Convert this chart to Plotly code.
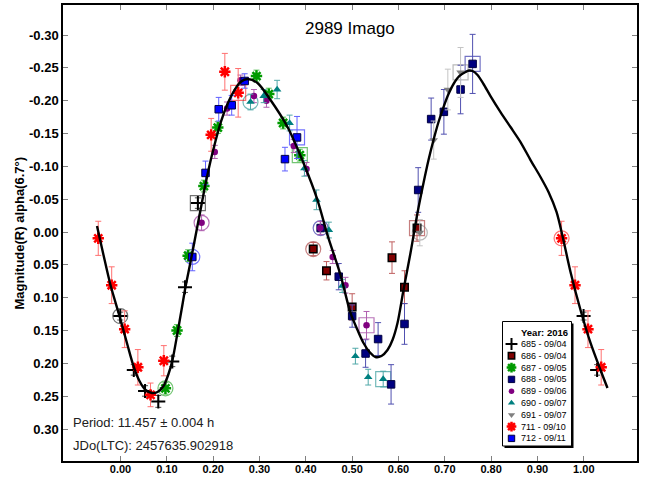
import plotly.graph_objects as go

# ---- fitted light curve (phase, reduced magnitude) ----
curve_phase = [-0.0507, -0.0367, -0.0216, -0.0022, 0.0151, 0.0281, 0.0410, 0.0540, 0.0680,
               0.0799, 0.0928, 0.1036, 0.1122, 0.1230, 0.1317, 0.1403, 0.1511, 0.1619,
               0.1727, 0.1835, 0.1943, 0.2051, 0.2158, 0.2309, 0.2461, 0.2590, 0.2741,
               0.2957, 0.3238, 0.3605, 0.3950, 0.4252, 0.4468, 0.4749, 0.4964, 0.5116,
               0.5245, 0.5375, 0.5504, 0.5633, 0.5763, 0.5871, 0.5979, 0.6108, 0.6259,
               0.6410, 0.6540, 0.6648, 0.6756, 0.6864, 0.6972, 0.7080, 0.7188, 0.7317,
               0.7447, 0.7522, 0.7598, 0.7706, 0.7835, 0.7986, 0.8202, 0.8418, 0.8634,
               0.8850, 0.9065, 0.9238, 0.9411, 0.9540, 0.9713, 0.9929, 1.0145, 1.0360, 1.0511]
curve_mag = [-0.0091, 0.0350, 0.0807, 0.1279, 0.1721, 0.2041, 0.2269, 0.2406, 0.2452,
             0.2436, 0.2345, 0.2162, 0.1949, 0.1538, 0.1188, 0.0838, 0.0457, 0.0061,
             -0.0335, -0.0731, -0.1081, -0.1386, -0.1660, -0.1949, -0.2162, -0.2284, -0.2330,
             -0.2269, -0.2010, -0.1599, -0.1051, -0.0487, 0.0046, 0.0655, 0.1233, 0.1492,
             0.1690, 0.1827, 0.1903, 0.1888, 0.1797, 0.1645, 0.1386, 0.0883, 0.0320,
             -0.0289, -0.0746, -0.1096, -0.1401, -0.1675, -0.1903, -0.2101, -0.2254, -0.2376,
             -0.2436, -0.2459, -0.2452, -0.2391, -0.2254, -0.2071, -0.1827, -0.1599, -0.1370,
             -0.1096, -0.0838, -0.0609, -0.0305, 0.0061, 0.0609, 0.1188, 0.1690, 0.2101, 0.2376]

# ---- sessions ----
session_ids = ["685", "686", "687", "688", "689", "690", "691", "711", "712"]
session_dates = ["09/04", "09/04", "09/05", "09/05", "09/06", "09/07", "09/07", "09/10", "09/11"]

s685_phase = [0.9995, 0.0287, 0.053, 0.0816, 0.1118, 0.1392, 0.167]
s685_mag = [0.128, 0.210, 0.242, 0.258, 0.197, 0.084, -0.044]
s685_err = [0.006, 0.008, 0.008, 0.009, 0.008, 0.008, 0.008]

s686_phase = [0.416, 0.4446, 0.500, 0.586, 0.613, 0.640]
s686_mag = [0.026, 0.059, 0.114, 0.039, 0.084, -0.006]
s686_err = [0.010, 0.014, 0.020, 0.024, 0.025, 0.020]

s687_phase = [0.097, 0.122, 0.146, 0.180, 0.210, 0.2935, 0.320, 0.351, 0.387]
s687_mag = [0.238, 0.150, 0.036, -0.070, -0.159, -0.2375, -0.210, -0.166, -0.117]
s687_err = [0.009, 0.009, 0.009, 0.009, 0.009, 0.009, 0.009, 0.009, 0.009]

s688_phase = [0.432, 0.471, 0.500, 0.529, 0.556, 0.584, 0.613, 0.6425, 0.6705, 0.698, 0.734, 0.760]
s688_mag = [-0.006, 0.068, 0.128, 0.185, 0.163, 0.232, 0.140, -0.064, -0.172, -0.183, -0.217, -0.256]
s688_err = [0.010, 0.020, 0.017, 0.021, 0.025, 0.030, 0.031, 0.034, 0.032, 0.034, 0.037, 0.045]

s689_phase = [0.175, 0.2035, 0.230, 0.259, 0.288, 0.315, 0.374, 0.4015, 0.431, 0.458, 0.4856, 0.531]
s689_mag = [-0.014, -0.122, -0.188, -0.231, -0.207, -0.200, -0.131, -0.096, -0.006, 0.038, 0.081, 0.142]
s689_err = [0.012, 0.010, 0.010, 0.008, 0.010, 0.010, 0.010, 0.010, 0.010, 0.010, 0.012, 0.021]

s690_phase = [0.2806, 0.309, 0.338, 0.365, 0.397, 0.423, 0.4497, 0.4785, 0.507, 0.5346, 0.567]
s690_mag = [-0.198, -0.207, -0.217, -0.166, -0.097, -0.049, -0.003, 0.082, 0.189, 0.221, 0.224]
s690_err = [0.012, 0.010, 0.014, 0.012, 0.012, 0.015, 0.012, 0.010, 0.012, 0.012, 0.012]

s691_phase = [0.646, 0.676, 0.7065, 0.734]
s691_mag = [0.001, -0.140, -0.217, -0.243]
s691_err = [0.020, 0.029, 0.031, 0.038]

s711_phase = [0.952, 0.981, 0.009, 0.0375, 0.0648, 0.0935, 0.1957, 0.2252, 0.254]
s711_mag = [0.0096, 0.081, 0.148, 0.206, 0.248, 0.196, -0.148, -0.244, -0.212]
s711_err = [0.026, 0.028, 0.028, 0.027, 0.018, 0.023, 0.025, 0.028, 0.037]

s712_phase = [0.155, 0.1835, 0.212, 0.240, 0.268, 0.355, 0.381]
s712_mag = [0.038, -0.090, -0.187, -0.193, -0.230, -0.111, -0.144]
s712_err = [0.021, 0.018, 0.018, 0.015, 0.011, 0.018, 0.032]

# first (circle) and last (square) observation of each session, same order as session_ids
first_phase = [-0.0005, 0.416, 0.097, 0.432, 0.175, 0.2806, 0.646, 0.952, 0.155]
first_mag = [0.128, 0.026, 0.238, -0.006, -0.014, -0.198, 0.001, 0.0096, 0.038]
last_phase = [0.167, 0.640, 0.387, 0.760, 0.531, 0.567, 0.734, 0.254, 0.381]
last_mag = [-0.044, -0.006, -0.117, -0.256, 0.142, 0.224, -0.243, -0.212, -0.144]

# axis ticks
x_ticks = [0.0, 0.1, 0.2, 0.3, 0.4, 0.5, 0.6, 0.7, 0.8, 0.9, 1.0]
y_ticks = [-0.30, -0.25, -0.20, -0.15, -0.10, -0.05, 0.00, 0.05, 0.10, 0.15, 0.20, 0.25, 0.30]

# ---- styles ----
colors = ["#000000", "#800000", "#009a00", "#000080", "#800080", "#008080", "#808080", "#ff0000", "#0000ff"]
err_colors = ["#505050", "#c06060", "#60c060", "#5050b0", "#b060b0", "#50a8a8", "#c4c4c4", "#ff7070", "#6060ff"]
ring_colors = ["rgba(0,0,0,0.55)", "rgba(160,40,40,0.6)", "rgba(0,150,0,0.55)", "rgba(0,0,150,0.55)",
               "rgba(128,0,128,0.55)", "rgba(0,128,128,0.55)", "rgba(128,128,128,0.55)",
               "rgba(255,0,0,0.55)", "rgba(0,0,255,0.55)"]


def marker_style(i, scale=1.0):
    c = colors[i]
    if i == 0:
        return dict(symbol="cross-thin", size=10 * scale, color=c, line=dict(color=c, width=2))
    if i in (2, 7):
        return dict(symbol="asterisk", size=9.5 * scale, color=c, line=dict(color=c, width=2.5))
    if i == 1:
        return dict(symbol="square", size=7.5 * scale, color=c, line=dict(color="#000000", width=1.5))
    if i in (3, 8):
        return dict(symbol="square", size=7.5 * scale, color=c, line=dict(color="#000040", width=1))
    if i == 4:
        return dict(symbol="circle", size=6.5 * scale, color=c, line=dict(width=0))
    if i == 5:
        return dict(symbol="triangle-up", size=7.5 * scale, color=c, line=dict(width=0))
    return dict(symbol="triangle-down", size=7.5 * scale, color=c, line=dict(width=0))


def fold(phase, mag, err):
    """Repeat points near the phase ends so the curve is covered from -0.05 to 1.05."""
    xs, ys, es = [], [], []
    for p, m, e in zip(phase, mag, err):
        xs.append(p); ys.append(m); es.append(e)
        if p >= 0.95:
            xs.append(p - 1.0); ys.append(m); es.append(e)
        if p < 0.05:
            xs.append(p + 1.0); ys.append(m); es.append(e)
    return xs, ys, es


sessions = [
    (s685_phase, s685_mag, s685_err),
    (s686_phase, s686_mag, s686_err),
    (s687_phase, s687_mag, s687_err),
    (s688_phase, s688_mag, s688_err),
    (s689_phase, s689_mag, s689_err),
    (s690_phase, s690_mag, s690_err),
    (s691_phase, s691_mag, s691_err),
    (s711_phase, s711_mag, s711_err),
    (s712_phase, s712_mag, s712_err),
]

fig = go.Figure()

# session rings (first / last point)
for i in range(len(session_ids)):
    fig.add_trace(go.Scatter(x=[first_phase[i]], y=[first_mag[i]], mode="markers", showlegend=False,
                             hoverinfo="skip",
                             marker=dict(symbol="circle-open", size=15, color=ring_colors[i],
                                         line=dict(color=ring_colors[i], width=1.2))))
    fig.add_trace(go.Scatter(x=[last_phase[i]], y=[last_mag[i]], mode="markers", showlegend=False,
                             hoverinfo="skip",
                             marker=dict(symbol="square-open", size=15, color=ring_colors[i],
                                         line=dict(color=ring_colors[i], width=1.2))))

# observations with error bars
for i, (ph, mg, er) in enumerate(sessions):
    xs, ys, es = fold(ph, mg, er)
    fig.add_trace(go.Scatter(
        x=xs, y=ys, mode="markers", showlegend=False,
        name=f"{session_ids[i]} - {session_dates[i]}",
        marker=marker_style(i),
        error_y=dict(type="data", array=es, color=err_colors[i], thickness=1, width=3),
    ))

# Fourier fit
fig.add_trace(go.Scatter(x=curve_phase, y=curve_mag, mode="lines", showlegend=False,
                         line=dict(color="black", width=2.4, shape="spline", smoothing=0.8)))

# ---- legend box drawn in pixel space on an overlay axis pair ----
W, H = 645, 477
L, R, T, B = 63, 8, 5, 16
leg_x0, leg_x1, leg_y0, leg_y1 = 502.5, 571.5, 321.5, 446.0
leg_rows_y = [344.0, 355.8, 367.6, 379.4, 391.2, 403.0, 414.8, 426.6, 438.4]
sym_x, txt_x = 511.5, 519.0

fig.add_shape(type="rect", xref="x2", yref="y2", x0=leg_x0 + 2, x1=leg_x1 + 2, y0=leg_y0 + 2, y1=leg_y1 + 2,
              fillcolor="#000000", line=dict(width=0), layer="below")
fig.add_shape(type="rect", xref="x2", yref="y2", x0=leg_x0, x1=leg_x1, y0=leg_y0, y1=leg_y1,
              fillcolor="#ffffff", line=dict(color="#000000", width=1), layer="below")

for i in range(len(session_ids)):
    fig.add_trace(go.Scatter(x=[sym_x], y=[leg_rows_y[i]], xaxis="x2", yaxis="y2", mode="markers",
                             showlegend=False, hoverinfo="skip", marker=marker_style(i, 0.85)))
    fig.add_annotation(x=txt_x, y=leg_rows_y[i], xref="x2", yref="y2", xanchor="left", yanchor="middle",
                       text=f"{session_ids[i]} - {session_dates[i]}", showarrow=False,
                       font=dict(family="Liberation Sans", size=9, color="black"))
fig.add_annotation(x=leg_x1 - 2, y=332.5, xref="x2", yref="y2", xanchor="right", yanchor="middle",
                   text="Year: 2016", showarrow=False,
                   font=dict(family="Liberation Sans", size=9.5, color="black", weight="bold"))

# ---- text ----
fig.add_annotation(x=350, y=28, xref="x2", yref="y2", xanchor="center", yanchor="middle",
                   text="2989 Imago", showarrow=False,
                   font=dict(family="Liberation Sans", size=17, color="black"))
fig.add_annotation(x=71, y=422, xref="x2", yref="y2", xanchor="left", yanchor="middle",
                   text="Period: 11.457 ± 0.004 h", showarrow=False,
                   font=dict(family="Liberation Sans", size=13, color="#202020"))
fig.add_annotation(x=71, y=445, xref="x2", yref="y2", xanchor="left", yanchor="middle",
                   text="JDo(LTC): 2457635.902918", showarrow=False,
                   font=dict(family="Liberation Sans", size=13, color="#202020"))
fig.add_annotation(x=(18.5 - L) / (W - L - R), y=1 - (233 - T) / (H - T - B), xref="paper", yref="paper",
                   xanchor="center", yanchor="middle", textangle=-90,
                   text="Magnitude(R) alpha(6.7°)", showarrow=False,
                   font=dict(family="Liberation Sans", size=13, color="black", weight="bold"))

fig.update_layout(
    width=W, height=H,
    margin=dict(l=L, r=R, t=T, b=B, autoexpand=False),
    paper_bgcolor="white", plot_bgcolor="white",
    showlegend=False,
    xaxis=dict(range=[-0.1241, 1.1148], tickvals=x_ticks, ticktext=[f"{v:.2f}" for v in x_ticks],
               ticks="inside", ticklen=5, tickcolor="#808080", tickwidth=1, ticklabelstandoff=-3,
               showline=True, linecolor="black", linewidth=1.5, mirror="ticks",
               showgrid=False, zeroline=False, automargin=False,
               tickfont=dict(family="Liberation Sans", size=11, color="black", weight="bold")),
    yaxis=dict(range=[0.3487, -0.3457], tickvals=y_ticks,
               ticktext=[f"{v:.2f}".replace("-0.00", "0.00") for v in y_ticks],
               ticks="inside", ticklen=5, tickcolor="#808080", tickwidth=1,
               showline=True, linecolor="black", linewidth=1.5, mirror="ticks",
               showgrid=False, zeroline=False, automargin=False,
               tickfont=dict(family="Liberation Sans", size=13, color="black", weight="bold")),
    xaxis2=dict(overlaying="x", anchor="y2", range=[L, W - R], visible=False, fixedrange=True),
    yaxis2=dict(overlaying="y", anchor="x2", range=[H - B, T], visible=False, fixedrange=True),
)

fig.write_html("out.html")
